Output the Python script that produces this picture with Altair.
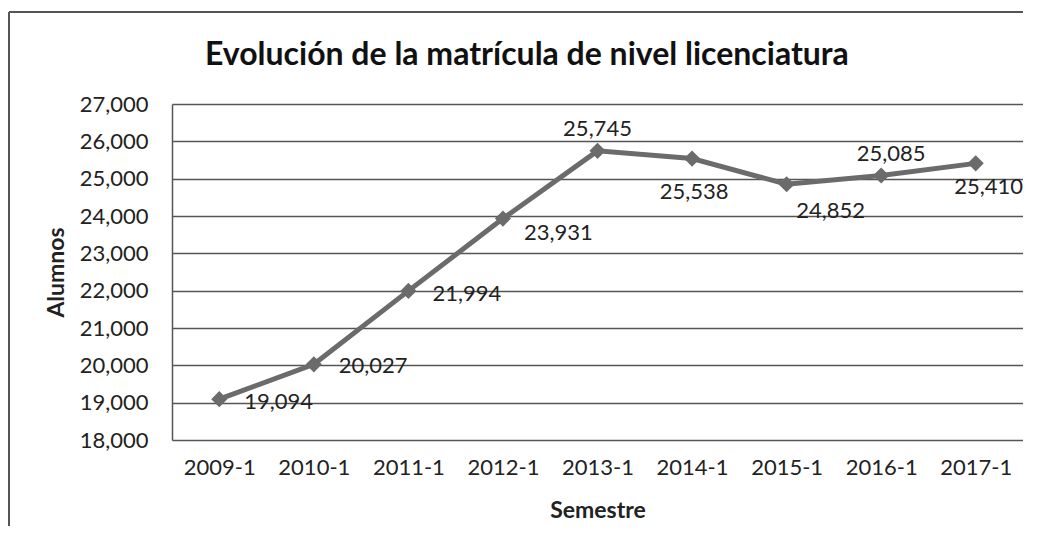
import altair as alt
import pandas as pd

# ---- data ----
semestres = ["2009-1", "2010-1", "2011-1", "2012-1", "2013-1",
             "2014-1", "2015-1", "2016-1", "2017-1"]
alumnos = [19094, 20027, 21994, 23931, 25745, 25538, 24852, 25085, 25410]
y_ticks = [18000, 19000, 20000, 21000, 22000, 23000, 24000, 25000, 26000, 27000]
title_text = "Evolución de la matrícula de nivel licenciatura"

# label placement (style, kept apart from data)
label_dx = [25, 25, 24, 21, 0, 2, 44, 10, 13]
label_dy = [3, 2, 3, 14, -22, 33, 27, -21, 24]
label_align = ["left", "left", "left", "left", "center", "center", "center", "center", "center"]

df = pd.DataFrame({"Semestre": semestres, "Alumnos": alumnos})

FONT = "Lato"
GRAY = "#6b6b6b"
W, H = 851, 336

x_enc = alt.X("Semestre:N", sort=semestres,
              scale=alt.Scale(type="point", padding=0.5),
              axis=alt.Axis(title="Semestre", labelAngle=0, ticks=False, domain=False,
                            labelPadding=17, grid=False,
                            titleX=W / 2, titleY=70, titleBaseline="middle"))
y_enc = alt.Y("Alumnos:Q",
              scale=alt.Scale(domain=[18000, 27000], nice=False, zero=False),
              axis=alt.Axis(title="Alumnos", values=y_ticks, format=",.0f", ticks=False,
                            domain=True, labelPadding=24,
                            titleX=-116, titleY=H / 2, titleBaseline="middle",
                            titleAlign="center", titleAngle=-90, grid=True))

base = alt.Chart(df).encode(x=x_enc, y=y_enc)

line = base.mark_line(color=GRAY, strokeWidth=5)
pts = base.mark_point(shape="diamond", filled=True, size=260, color=GRAY, opacity=1)

labels = []
for i, s in enumerate(semestres):
    labels.append(
        base.transform_filter(alt.datum.Semestre == s)
        .mark_text(dx=label_dx[i], dy=label_dy[i], align=label_align[i], baseline="middle",
                   font=FONT, fontSize=22, color="#222")
        .encode(text=alt.Text("Alumnos:Q", format=",.0f"))
    )

frame_left = alt.Chart(df).transform_filter(alt.datum.Semestre == semestres[0]).mark_rule(
    color="#555", strokeWidth=2).encode(
    x=alt.value(-163), y=alt.value(-92), y2=alt.value(H + 120))
frame_top = alt.Chart(df).transform_filter(alt.datum.Semestre == semestres[0]).mark_rule(
    color="#555", strokeWidth=2).encode(
    x=alt.value(-163), x2=alt.value(W + 7), y=alt.value(-92))
title = alt.Chart(df).transform_filter(alt.datum.Semestre == semestres[0]).mark_text(
    text=title_text, align="left", baseline="alphabetic", font=FONT, fontSize=32,
    fontWeight="bold", color="#111").encode(x=alt.value(33), y=alt.value(-39))

chart = alt.layer(frame_left, frame_top, title, line, pts, *labels).properties(
    width=W, height=H,
    autosize=alt.AutoSizeParams(type="none"),
    padding={"left": 164, "top": 96, "right": 0, "bottom": 86},
    background="#ffffff",
).configure_view(stroke=None).configure_axis(
    labelFont=FONT, labelFontSize=22, labelColor="#222",
    titleFont=FONT, titleFontSize=23, titleFontWeight="bold", titleColor="#222",
    gridColor="#555", gridWidth=1.5, domainColor="#555", domainWidth=1.5,
)

chart.save("out.html", embed_options={"renderer": "svg", "actions": False})
